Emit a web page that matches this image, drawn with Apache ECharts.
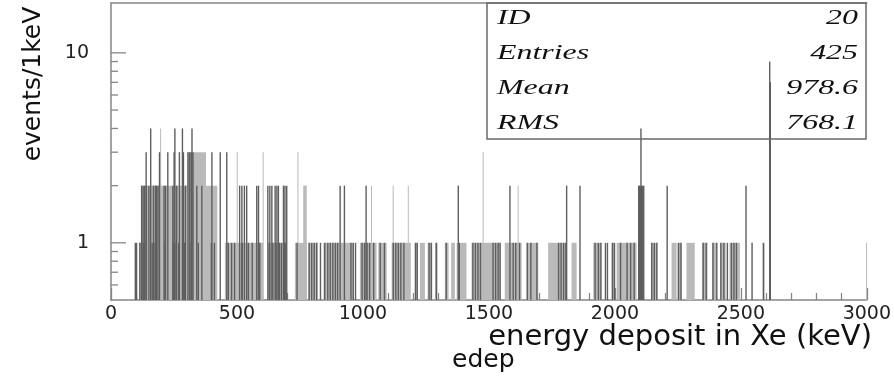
<!DOCTYPE html>
<html>
<head>
<meta charset="utf-8">
<script src="https://cdn.jsdelivr.net/npm/echarts@6/dist/echarts.min.js"></script>
<style>
  html, body { margin: 0; background: #fff; }
  #chart { width: 894px; height: 378px; }
</style>
</head>
<body>
<div id="chart"></div>
<script>
// stretches of the spectrum that read as a light filled band: [fromKeV, toKeV, counts]
var fillRuns = [
  [112, 175, 1], [194, 221, 1], [241, 274, 1], [281, 294, 1], [311, 353, 1], [393, 419, 1],
  [452, 604, 1], [624, 697, 1], [730, 777, 1], [783, 820, 1], [843, 962, 1], [988, 1054, 1],
  [1061, 1094, 1], [1114, 1190, 1], [1206, 1217, 1], [1226, 1246, 1], [1257, 1275, 1],
  [1286, 1296, 1], [1325, 1340, 1], [1350, 1365, 1], [1372, 1411, 1], [1431, 1546, 1],
  [1563, 1630, 1], [1649, 1696, 1], [1735, 1808, 1], [1828, 1848, 1], [1914, 1947, 1],
  [1987, 2000, 1], [2007, 2086, 1], [2143, 2169, 1], [2225, 2245, 1], [2249, 2265, 1],
  [2284, 2317, 1], [2346, 2368, 1], [2386, 2405, 1], [2420, 2440, 1], [2455, 2496, 1],
  [2585, 2592, 1], [2997, 2999, 1],
  [119, 422, 2], [763, 777, 2], [1032, 1036, 2], [1118, 1122, 2], [1178, 1182, 2], [1614, 1618, 2],
  [303, 377, 3], [499, 503, 3], [602, 606, 3], [740, 744, 3], [1475, 1479, 3],
  [195, 199, 4],
  [2612, 2617, 7]
];

// single bins that read as dark lines: energy (keV) per count level
var ones = [96, 101, 114, 127, 133, 163, 170, 214, 247, 258, 268, 291, 318, 346, 398, 410, 465, 478,
  490, 520, 545, 560, 590, 628, 642, 655, 668, 676, 688, 694, 738, 786, 796, 806, 816, 831, 848,
  860, 870, 880, 890, 899, 952, 961, 970, 996, 1006, 1016, 1026, 1042, 1068, 1085, 1120, 1130,
  1140, 1150, 1162, 1208, 1215, 1262, 1271, 1291, 1330, 1382, 1436, 1446, 1456, 1466, 1516, 1526,
  1536, 1544, 1596, 1606, 1621, 1652, 1666, 1690, 1776, 1786, 1796, 1805, 1921, 1934, 1944, 1962,
  1970, 1990, 1998, 2022, 2048, 2062, 2076, 2146, 2156, 2166, 2252, 2262, 2350, 2362, 2389, 2404,
  2420, 2432, 2446, 2462, 2472, 2482, 2544, 2590];
var twos = [121, 127, 133, 140, 150, 168, 176, 180, 186, 210, 216, 245, 260, 295, 340, 360, 510, 519,
  529, 538, 578, 585, 622, 630, 638, 651, 658, 664, 684, 690, 697, 909, 926, 1012, 1378, 1583,
  1808, 1861, 2094, 2098, 2102, 2106, 2110, 2114, 2207, 2520];
var threes = [139, 192, 225, 250, 271, 287, 305, 312, 318, 325, 400, 433, 459];
var fours = [157, 253, 283, 321, 2103];
var sevens = [2615, 2616];
var nines = [2614];

var yTickVals = [0.6, 0.7, 0.8, 0.9, 1, 2, 3, 4, 5, 6, 7, 8, 9, 10];
var yLabelVals = [1, 10];

var statNames = ['ID', 'Entries', 'Mean', 'RMS'];
var statValues = ['20', '425', '978.6', '768.1'];

var yMin = 0.5, yMax = 18.3;

var lineBins = [];
[[ones, 1], [twos, 2], [threes, 3], [fours, 4], [sevens, 7], [nines, 9]].forEach(function (g) {
  g[0].forEach(function (e) { lineBins.push([e, g[1]]); });
});

var axisGrey = '#858585';
var sans = 'DejaVu Sans';

function fillItem(params, api) {
  var p0 = api.coord([api.value(0), yMin]);
  var p1 = api.coord([api.value(1), api.value(2)]);
  var w = Math.max(p1[0] - p0[0], 1);
  return {
    type: 'rect',
    shape: { x: p0[0], y: p1[1], width: w, height: p0[1] - p1[1] },
    style: { fill: '#bababa' }
  };
}

function lineItem(params, api) {
  var p0 = api.coord([api.value(0) + 0.5, yMin]);
  var p1 = api.coord([api.value(0) + 0.5, api.value(1)]);
  return {
    type: 'rect',
    shape: { x: p0[0] - 0.7, y: p1[1], width: 1.4, height: p0[1] - p1[1] },
    style: { fill: '#5e5e5e' }
  };
}

function yTickItem(params, api) {
  var v = api.value(0);
  var p = api.coord([0, v]);
  var len = yLabelVals.indexOf(v) >= 0 ? 15 : 7;
  return {
    type: 'line',
    shape: { x1: p[0], y1: p[1], x2: p[0] + len, y2: p[1] },
    style: { stroke: axisGrey, lineWidth: 1.3 }
  };
}

var graphics = [
  {
    type: 'rect', x: 487, y: 3,
    shape: { x: 0, y: 0, width: 379, height: 136 },
    style: { fill: 'none', stroke: '#6a6a6a', lineWidth: 1.5 }, z: 10
  },
  {
    type: 'text', x: 33, y: 84, rotation: Math.PI / 2,
    style: { text: 'events/1keV', font: '25px "DejaVu Sans"', fill: '#111',
      align: 'center', verticalAlign: 'middle', textAlign: 'center', textVerticalAlign: 'middle' }
  },
  {
    type: 'text', x: 872, y: 337,
    style: { text: 'energy deposit in Xe (keV)', font: '29px "DejaVu Sans"', fill: '#111',
      align: 'right', verticalAlign: 'middle', textAlign: 'right', textVerticalAlign: 'middle' }
  },
  {
    type: 'text', x: 452, y: 360,
    style: { text: 'edep', font: '25px "DejaVu Sans"', fill: '#111',
      align: 'left', verticalAlign: 'middle', textAlign: 'left', textVerticalAlign: 'middle' }
  }
];
statNames.forEach(function (n, i) {
  var y = 18 + i * 35;
  graphics.push({
    type: 'text', x: 497, y: y, scaleX: 1.45, z: 11,
    style: { text: n, font: 'italic 22px "Liberation Serif"', fill: '#111',
      align: 'left', verticalAlign: 'middle', textAlign: 'left', textVerticalAlign: 'middle' }
  });
  graphics.push({
    type: 'text', x: 858, y: y, scaleX: 1.45, z: 11,
    style: { text: statValues[i], font: 'italic 22px "Liberation Serif"', fill: '#111',
      align: 'right', verticalAlign: 'middle', textAlign: 'right', textVerticalAlign: 'middle' }
  });
});

var chart = echarts.init(document.getElementById('chart'));
chart.setOption({
  animation: false,
  backgroundColor: '#fff',
  grid: { left: 111, right: 27, top: 3, bottom: 78 },
  xAxis: [
    {
      type: 'value', min: 0, max: 3000, interval: 500,
      axisLine: { lineStyle: { color: axisGrey, width: 1.5 } },
      axisTick: { inside: true, length: 12, lineStyle: { color: axisGrey, width: 1.3 } },
      minorTick: { show: true, splitNumber: 5, length: 7, lineStyle: { color: axisGrey, width: 1.3 } },
      splitLine: { show: false },
      axisLabel: { fontFamily: sans, fontSize: 19, color: '#222', margin: 5,
        formatter: function (v) { return String(v); } }
    },
    {
      type: 'value', min: 0, max: 3000, position: 'top',
      axisLine: { show: true, lineStyle: { color: axisGrey, width: 1.5 } },
      axisTick: { show: false }, axisLabel: { show: false }, splitLine: { show: false }
    }
  ],
  yAxis: {
    type: 'log', min: yMin, max: yMax,
    axisLine: { show: true, lineStyle: { color: axisGrey, width: 1.5 } },
    axisTick: { show: false },
    splitLine: { show: false },
    axisLabel: {
      fontFamily: sans, fontSize: 19, color: '#222', margin: 22,
      showMinLabel: false, showMaxLabel: false,
      formatter: function (v) {
        for (var i = 0; i < yLabelVals.length; i++) {
          if (Math.abs(v - yLabelVals[i]) < 1e-6) return String(yLabelVals[i]);
        }
        return '';
      }
    }
  },
  series: [
    { type: 'custom', name: 'fill', renderItem: fillItem, data: fillRuns,
      encode: { x: [0, 1], y: 2 }, z: 2 },
    { type: 'custom', name: 'bins', renderItem: lineItem, data: lineBins,
      encode: { x: 0, y: 1 }, z: 3 },
    { type: 'custom', name: 'yticks', renderItem: yTickItem, clip: false,
      data: yTickVals.map(function (v) { return [v]; }),
      encode: { y: 0 }, z: 4, silent: true }
  ],
  graphic: graphics
});
</script>
</body>
</html>
